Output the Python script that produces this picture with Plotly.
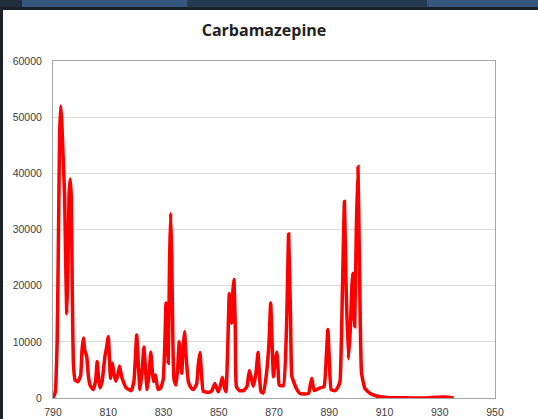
import plotly.graph_objects as go

wavenumber = [
    790.0, 790.8, 791.5, 792.0, 792.4, 792.8, 793.2, 793.7, 794.2, 794.6, 795.0, 795.4, 795.8, 796.2,
    796.6, 797.0, 797.4, 798.0, 799.0, 800.0, 800.5, 801.0, 801.5, 802.2, 802.8, 803.4, 804.6, 805.4,
    806.0, 806.5, 807.0, 807.8, 808.8, 809.4, 810.0, 810.5, 810.8, 811.5, 812.0, 812.7, 813.4, 814.1,
    815.0, 816.5, 818.3, 819.3, 820.3, 821.0, 821.5, 822.3, 822.9, 823.5, 824.1, 824.8, 825.4, 826.0,
    826.4, 827.1, 827.6, 828.1, 829.0, 829.9, 830.5, 830.9, 831.3, 831.7, 832.2, 832.6, 833.0, 833.4,
    833.8, 834.5, 835.1, 835.7, 836.2, 836.6, 837.1, 837.6, 838.1, 839.0, 840.0, 840.8, 842.0, 842.6,
    843.2, 843.8, 844.4, 846.2, 847.5, 848.6, 849.8, 850.5, 851.3, 852.0, 852.6, 853.2, 853.8, 854.2,
    854.6, 855.1, 855.5, 856.0, 856.4, 857.5, 859.0, 860.2, 861.1, 861.8, 862.5, 863.5, 864.2, 864.8,
    865.3, 866.1, 867.3, 868.2, 868.8, 869.3, 869.8, 870.4, 871.0, 871.5, 871.9, 873.4, 874.5, 875.3,
    876.0, 876.5, 878.2, 879.4, 882.5, 883.2, 883.7, 884.2, 884.6, 886.7, 888.1, 888.9, 889.5, 890.1,
    890.7, 892.1, 893.2, 893.9, 894.8, 895.5, 896.1, 896.9, 897.6, 898.2, 898.5, 898.9, 899.2, 899.8,
    900.4, 900.9, 901.7, 902.9, 904.7, 907.1, 910.7, 915.0, 920.0, 925.0, 930.0, 932.0, 934.0, 935.0,
]
intensity = [
    0, 1000, 10000, 30000, 47000, 52000, 49000, 42500, 36000, 24000, 15000, 22000, 36000, 39000,
    36000, 18000, 6000, 3200, 2900, 4000, 8500, 10700, 8500, 7400, 4000, 2300, 1500, 3000,
    6500, 3500, 1800, 3000, 7400, 9000, 10900, 6500, 3500, 6200, 4500, 3000, 4000, 5700,
    3500, 1800, 1300, 3000, 11200, 5000, 1500, 5000, 9100, 5000, 1500, 4500, 8200, 4500,
    2900, 4100, 2500, 1500, 1800, 3300, 10000, 16900, 10000, 6200, 25000, 32900, 25000, 10000,
    3300, 2300, 5000, 10000, 7000, 4400, 9000, 11800, 8000, 2900, 1800, 1500, 2500, 6000,
    8100, 4000, 1200, 1000, 1300, 2600, 1100, 2000, 3700, 2000, 1100, 8000, 18600, 15000,
    13300, 19000, 21100, 12000, 2000, 1300, 1300, 2000, 4900, 3500, 2100, 4500, 8100, 3500,
    1100, 900, 4400, 10000, 16900, 10000, 3800, 6500, 8200, 5000, 2300, 2200, 12000, 29200,
    14000, 3800, 1600, 800, 800, 2500, 3500, 2000, 1300, 1800, 2000, 7000, 12200, 6000,
    1500, 1300, 2000, 3000, 20000, 35000, 20000, 7000, 12000, 20000, 22200, 15000, 12700, 30000,
    41200, 25000, 4400, 1700, 830, 350, 100, 40, 20, 20, 150, 200, 100, 0,
]
x_ticks = [790, 810, 830, 850, 870, 890, 910, 930, 950]
y_ticks = [0, 10000, 20000, 30000, 40000, 50000, 60000]
title_text = "Carbamazepine"

W, H = 538, 419
L, R, T, B = 53, 43, 61, 21
pw, ph = W - L - R, H - T - B


def px(xp):
    return (xp - L) / pw


def py(yp):
    return (H - B - yp) / ph


fig = go.Figure()
fig.add_trace(go.Scatter(
    x=wavenumber, y=intensity, mode="lines",
    line=dict(color="#ff0000", width=3.5, shape="spline", smoothing=0.4),
    hoverinfo="skip", showlegend=False,
))

shapes = []
# decorative dark/blue strip at top and left edge
for x0, x1, col in [(0, 22, "#1f2d3d"), (22, 187, "#36577d"), (187, 427, "#243a50"), (427, 538, "#36577d")]:
    shapes.append(dict(type="rect", xref="paper", yref="paper", x0=px(x0), x1=px(x1),
                       y0=py(7), y1=py(-2), fillcolor=col, line_width=0, layer="above"))
shapes.append(dict(type="rect", xref="paper", yref="paper", x0=px(-2), x1=px(540),
                   y0=py(10), y1=py(7), fillcolor="#1c2229", line_width=0, layer="above"))
shapes.append(dict(type="rect", xref="paper", yref="paper", x0=px(-2), x1=px(3),
                   y0=py(421), y1=py(7), fillcolor="#1c2229", line_width=0, layer="above"))

fig.update_layout(
    width=W, height=H,
    margin=dict(l=L, r=R, t=T, b=B, pad=0, autoexpand=False),
    paper_bgcolor="white", plot_bgcolor="white",
    title=dict(text="<b>" + title_text + "</b>", x=264 / W, xref="container", xanchor="center",
               y=1 - 30 / H, yref="container", yanchor="middle",
               font=dict(family="Open Sans", size=16, color="#222222")),
    xaxis=dict(range=[790, 950], tickvals=x_ticks, ticktext=[str(v) for v in x_ticks],
               showgrid=False, zeroline=False, showline=True, linecolor="#a6a6a6", linewidth=1,
               mirror=True, ticks="", ticklabelstandoff=4, automargin=False,
               tickfont=dict(family="Liberation Sans", size=10.5, color="#404040")),
    yaxis=dict(range=[0, 60000], tickvals=y_ticks, ticktext=[str(v) for v in y_ticks],
               showgrid=True, gridcolor="#dcdcdc", gridwidth=1, zeroline=False,
               showline=True, linecolor="#a6a6a6", linewidth=1, mirror=True, ticks="",
               ticklabelstandoff=8, automargin=False,
               tickfont=dict(family="Liberation Sans", size=10.5, color="#404040")),
    shapes=shapes,
)

fig.write_html(
    "out.html",
    config={"displayModeBar": False, "staticPlot": True},
    post_script="document.body.style.margin='0';document.body.style.overflow='hidden';",
)
